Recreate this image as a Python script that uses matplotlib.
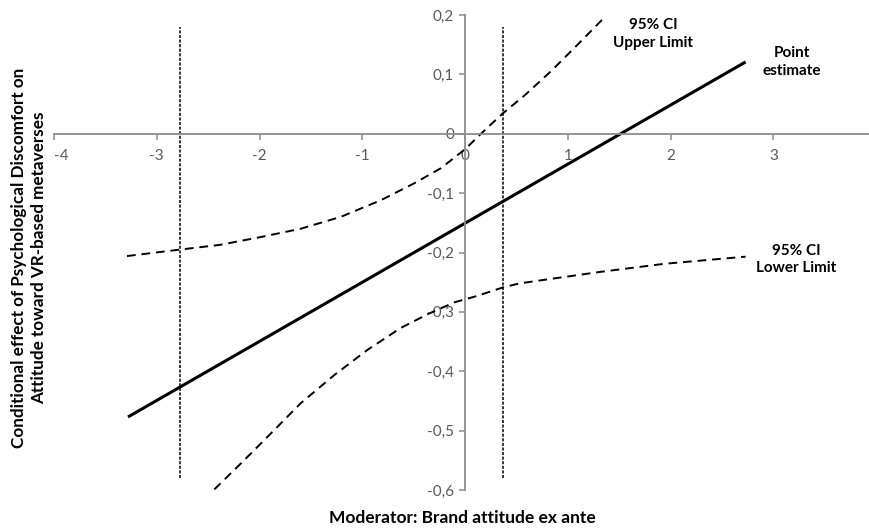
import matplotlib
matplotlib.use("Agg")
import matplotlib.pyplot as plt

plt.rcParams['font.family'] = ['Lato', 'DejaVu Sans']

# point estimate of the conditional effect
est_x = [-3.28, 2.73]
est_y = [-0.477, 0.121]

# 95% CI upper limit
upper_x = [-3.29, -2.77, -2.38, -1.99, -1.60, -1.21, -0.82, -0.49, -0.235, 0.0,
           0.155, 0.365, 0.575, 0.84, 1.10, 1.345]
upper_y = [-0.206, -0.195, -0.187, -0.174, -0.160, -0.140, -0.112, -0.083, -0.058, -0.026,
           0.0, 0.034, 0.064, 0.106, 0.151, 0.194]

# 95% CI lower limit
lower_x = [-2.44, -2.18, -1.92, -1.60, -1.27, -0.95, -0.625, -0.365, -0.105, 0.12,
           0.365, 0.53, 1.30, 1.94, 2.73]
lower_y = [-0.599, -0.555, -0.510, -0.454, -0.406, -0.364, -0.327, -0.304, -0.284, -0.273,
           -0.259, -0.252, -0.233, -0.219, -0.207]

# Johnson-Neyman points
jn_x = [-2.77, 0.365]
jn_ymin = -0.58
jn_ymax = 0.18

xticks = [-4, -3, -2, -1, 0, 1, 2, 3]
yticks = [0.2, 0.1, 0.0, -0.1, -0.2, -0.3, -0.4, -0.5, -0.6]
ytick_labels = ["0,2", "0,1", "0", "-0,1", "-0,2", "-0,3", "-0,4", "-0,5", "-0,6"]

fig = plt.figure(figsize=(8.7, 5.28), dpi=100)
ax = fig.add_axes([54 / 870, 38 / 528, 816 / 870, 475 / 528])

ax.plot(est_x, est_y, color="black", lw=2.2, solid_capstyle="butt")
ax.plot(upper_x, upper_y, color="black", lw=1.4, linestyle=(0, (4.5, 3)))
ax.plot(lower_x, lower_y, color="black", lw=1.4, linestyle=(0, (4.5, 3)))
for xv in jn_x:
    ax.vlines(xv, jn_ymin, jn_ymax, color="black", lw=1.1, linestyles=(0, (2, 1)))

ax.set_xlim(-4, 3.94)
ax.set_ylim(-0.6, 0.2)

ax.spines["left"].set_position(("data", 0))
ax.spines["bottom"].set_position(("data", 0))
ax.spines["right"].set_visible(False)
ax.spines["top"].set_visible(False)
for s in ["left", "bottom"]:
    ax.spines[s].set_color("#8c8c8c")
    ax.spines[s].set_linewidth(1.3)

ax.set_xticks(xticks)
ax.set_xticklabels([str(t) for t in xticks])
ax.set_yticks(yticks)
ax.set_yticklabels(ytick_labels)
ax.tick_params(axis="both", colors="#8c8c8c", labelcolor="#595959", labelsize=11,
               direction="out", length=4, width=1.1)
ax.tick_params(axis="x", pad=7)
ax.tick_params(axis="y", pad=4)
# keep the "-4" label clear of the y axis title
ax.get_xticklabels()[0].set_horizontalalignment("left")

ax.text(1.83, 0.168, "95% CI\nUpper Limit", ha="center", va="center",
        fontsize=11, fontweight="bold", linespacing=1.3)
ax.text(3.18, 0.121, "Point\nestimate", ha="center", va="center",
        fontsize=11, fontweight="bold", linespacing=1.3)
ax.text(3.22, -0.212, "95% CI\nLower Limit", ha="center", va="center",
        fontsize=11, fontweight="bold", linespacing=1.3)

fig.text(462 / 870, 1 - 518 / 528, "Moderator: Brand attitude ex ante", ha="center",
         va="center", fontsize=12.5, fontweight="bold")
fig.text(29 / 870, 1 - 258 / 528,
         "Conditional effect of Psychological Discomfort on\nAttitude toward VR-based metaverses",
         ha="center", va="center", rotation=90, fontsize=12.3, fontweight="bold",
         linespacing=1.25)

fig.savefig("out.png", dpi=100)
